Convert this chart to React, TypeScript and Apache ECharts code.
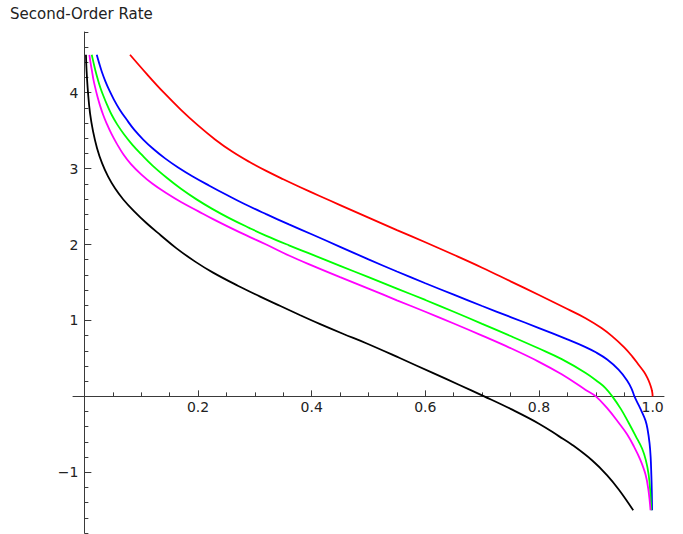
import React, { useEffect, useRef } from "react";
import * as echarts from "echarts";

const TITLE = "Second-Order Rate";

const X_MIN = -0.02;
const X_MAX = 1.02;
const Y_MIN = -1.8;
const Y_MAX = 4.8;

const X_MAJOR = [0.2, 0.4, 0.6, 0.8, 1.0];
const X_MINOR = [0.05, 0.1, 0.15, 0.25, 0.3, 0.35, 0.45, 0.5, 0.55, 0.65, 0.7, 0.75, 0.85, 0.9, 0.95];
const Y_MAJOR = [-1, 1, 2, 3, 4];
const Y_MINOR = [
  -1.8, -1.6, -1.4, -1.2, -0.8, -0.6, -0.4, -0.2, 0.2, 0.4, 0.6, 0.8,
  1.2, 1.4, 1.6, 1.8, 2.2, 2.4, 2.6, 2.8, 3.2, 3.4, 3.6, 3.8, 4.2, 4.4, 4.6, 4.8,
];

const RED = [
  [0.0803, 4.5], [0.11, 4.245], [0.14, 4.0], [0.17, 3.775], [0.2, 3.57],
  [0.23, 3.385], [0.26, 3.225], [0.29, 3.09], [0.32, 2.97], [0.35, 2.86],
  [0.38, 2.755], [0.414, 2.64], [0.45, 2.52], [0.5, 2.355], [0.55, 2.19],
  [0.6, 2.03], [0.65, 1.865], [0.7, 1.695], [0.75, 1.515], [0.8, 1.335],
  [0.85, 1.15], [0.882, 1.03], [0.91, 0.9], [0.929, 0.79], [0.95, 0.645],
  [0.964, 0.527], [0.976, 0.41], [0.985, 0.32], [0.991, 0.24], [0.995, 0.17],
  [0.998, 0.1], [0.9995, 0.045], [1.0, 0],
];

const BLUE = [
  [0.0218, 4.5], [0.026, 4.39], [0.031, 4.27], [0.037, 4.15], [0.044, 4.03],
  [0.052, 3.91], [0.062, 3.78], [0.074, 3.65], [0.088, 3.51], [0.104, 3.38],
  [0.122, 3.255], [0.142, 3.135], [0.165, 3.015], [0.19, 2.9], [0.22, 2.775],
  [0.25, 2.655], [0.28, 2.54], [0.32, 2.4], [0.36, 2.265], [0.4, 2.135],
  [0.45, 1.97], [0.5, 1.805], [0.55, 1.645], [0.6, 1.49], [0.65, 1.34],
  [0.7, 1.19], [0.75, 1.045], [0.8, 0.9], [0.85, 0.75], [0.88, 0.655],
  [0.9, 0.58], [0.92, 0.485], [0.94, 0.352], [0.955, 0.21], [0.963, 0.1],
  [0.968, 0.0], [0.975, -0.11], [0.981, -0.205], [0.9875, -0.32], [0.991, -0.43],
  [0.9946, -0.62], [0.9965, -0.8], [0.9977, -1.03], [0.9985, -1.25], [0.999, -1.5],
];

const GREEN = [
  [0.013, 4.5], [0.016, 4.4], [0.0195, 4.29], [0.0235, 4.18], [0.028, 4.07],
  [0.0334, 3.96], [0.04, 3.84], [0.048, 3.71], [0.058, 3.58], [0.07, 3.45],
  [0.085, 3.31], [0.1, 3.19], [0.12, 3.04], [0.145, 2.88], [0.17, 2.735],
  [0.1974, 2.595], [0.225, 2.47], [0.2558, 2.345], [0.29, 2.22], [0.3203, 2.115],
  [0.36, 1.99], [0.4, 1.87], [0.45, 1.72], [0.5, 1.57], [0.55, 1.42],
  [0.6, 1.27], [0.65, 1.115], [0.7, 0.955], [0.75, 0.795], [0.8, 0.63],
  [0.84, 0.49], [0.8822, 0.308], [0.905, 0.185], [0.917, 0.11], [0.929, 0.0],
  [0.944, -0.165], [0.958, -0.351], [0.97, -0.52], [0.9816, -0.69], [0.988, -0.84],
  [0.993, -1.03], [0.9958, -1.25], [0.9977, -1.5],
];

const MAGENTA = [
  [0.0088, 4.5], [0.011, 4.39], [0.0135, 4.28], [0.0158, 4.18], [0.019, 4.07],
  [0.023, 3.95], [0.0276, 3.83], [0.033, 3.71], [0.0395, 3.59], [0.0475, 3.46],
  [0.057, 3.33], [0.0685, 3.19], [0.082, 3.06], [0.1, 2.925], [0.12, 2.8],
  [0.1447, 2.675], [0.17, 2.56], [0.2, 2.44], [0.2265, 2.335], [0.26, 2.21],
  [0.2852, 2.12], [0.32, 2.0], [0.36, 1.855], [0.4, 1.725], [0.45, 1.57],
  [0.5, 1.42], [0.55, 1.265], [0.6, 1.115], [0.65, 0.96], [0.7, 0.8],
  [0.75, 0.635], [0.8, 0.455], [0.84, 0.29], [0.8822, 0.085], [0.9, 0.0],
  [0.92, -0.155], [0.9406, -0.351], [0.955, -0.5], [0.967, -0.659], [0.978, -0.83],
  [0.9875, -1.03], [0.9925, -1.23], [0.9963, -1.5],
];

const BLACK = [
  [0.0028, 4.5], [0.0039, 4.29], [0.0065, 3.993], [0.01, 3.728], [0.0153, 3.491],
  [0.0223, 3.27], [0.0311, 3.072], [0.0416, 2.898], [0.0539, 2.741], [0.0685, 2.594],
  [0.0873, 2.44], [0.1096, 2.28], [0.1347, 2.12], [0.1622, 1.95], [0.195, 1.775],
  [0.2265, 1.63], [0.27, 1.458], [0.3085, 1.318], [0.345, 1.19], [0.379, 1.072],
  [0.414, 0.955], [0.455, 0.825], [0.496, 0.7], [0.555, 0.505], [0.613, 0.309],
  [0.66, 0.15], [0.7036, 0.0], [0.75, -0.165], [0.8, -0.36], [0.8355, -0.527],
  [0.8587, -0.64], [0.8938, -0.845], [0.92, -1.04], [0.9407, -1.23], [0.9658, -1.5],
];

const SERIES = [
  { name: "red", color: "#ff0000", data: RED },
  { name: "blue", color: "#0000ff", data: BLUE },
  { name: "green", color: "#00ff00", data: GREEN },
  { name: "magenta", color: "#ff00ff", data: MAGENTA },
  { name: "black", color: "#000000", data: BLACK },
];

const AXIS_COLOR = "#3a3a3a";
const LABEL_COLOR = "#222222";
const FONT = "DejaVu Sans";

const W = 683;
const H = 534;
const GRID = { left: 73, right: 19, top: 32, bottom: 1 };

export default function App() {
  const ref = useRef<HTMLDivElement>(null);
  useEffect(() => {
    if (!ref.current) return;
    const chart = echarts.init(ref.current, undefined, { renderer: "svg" });
    const plotW = W - GRID.left - GRID.right;
    const plotH = H - GRID.top - GRID.bottom;
    // shift the axes from the grid edges onto the zero lines
    const xAxisOffset = -((0 - Y_MIN) / (Y_MAX - Y_MIN)) * plotH;
    const yAxisOffset = -((0 - X_MIN) / (X_MAX - X_MIN)) * plotW;

    const xBase = {
      type: "value" as const,
      min: X_MIN,
      max: X_MAX,
      position: "bottom" as const,
      offset: xAxisOffset,
      splitLine: { show: false },
    };
    const yBase = {
      type: "value" as const,
      min: Y_MIN,
      max: Y_MAX,
      position: "left" as const,
      offset: yAxisOffset,
      splitLine: { show: false },
    };

    chart.setOption({
      animation: false,
      backgroundColor: "#ffffff",
      title: {
        text: TITLE,
        left: 10,
        top: 6,
        padding: 0,
        textStyle: { fontSize: 15, fontWeight: "normal", color: LABEL_COLOR, fontFamily: FONT },
      },
      grid: { ...GRID, containLabel: false, outerBoundsMode: "none" },
      xAxis: [
        {
          ...xBase,
          axisLine: { show: true, onZero: false, lineStyle: { color: AXIS_COLOR, width: 1 } },
          axisTick: { show: true, inside: true, length: 6, customValues: X_MAJOR, lineStyle: { color: AXIS_COLOR } },
          axisLabel: {
            show: true,
            customValues: X_MAJOR,
            margin: 4,
            fontSize: 14,
            fontFamily: FONT,
            color: LABEL_COLOR,
            formatter: (v: number) => v.toFixed(1),
          },
        },
        {
          ...xBase,
          axisLine: { show: false, onZero: false },
          axisTick: { show: true, inside: true, length: 4, customValues: X_MINOR, lineStyle: { color: AXIS_COLOR } },
          axisLabel: { show: false },
        },
      ],
      yAxis: [
        {
          ...yBase,
          axisLine: { show: true, onZero: false, lineStyle: { color: AXIS_COLOR, width: 1 } },
          axisTick: { show: true, inside: true, length: 7, customValues: Y_MAJOR, lineStyle: { color: AXIS_COLOR } },
          axisLabel: {
            show: true,
            customValues: Y_MAJOR,
            margin: 6,
            fontSize: 14,
            fontFamily: FONT,
            color: LABEL_COLOR,
            formatter: (v: number) => (v < 0 ? "\u2212" + Math.abs(v) : String(v)),
          },
        },
        {
          ...yBase,
          axisLine: { show: false, onZero: false },
          axisTick: { show: true, inside: true, length: 4, customValues: Y_MINOR, lineStyle: { color: AXIS_COLOR } },
          axisLabel: { show: false },
        },
      ],
      series: SERIES.map((s) => ({
        name: s.name,
        type: "line",
        xAxisIndex: 0,
        yAxisIndex: 0,
        data: s.data,
        showSymbol: false,
        smooth: 0.4,
        clip: true,
        lineStyle: { color: s.color, width: 1.8 },
        itemStyle: { color: s.color },
      })),
    });
    return () => chart.dispose();
  }, []);
  return (
    <div
      ref={ref}
      style={{ position: "absolute", left: 0, top: 0, width: W, height: H }}
    />
  );
}
